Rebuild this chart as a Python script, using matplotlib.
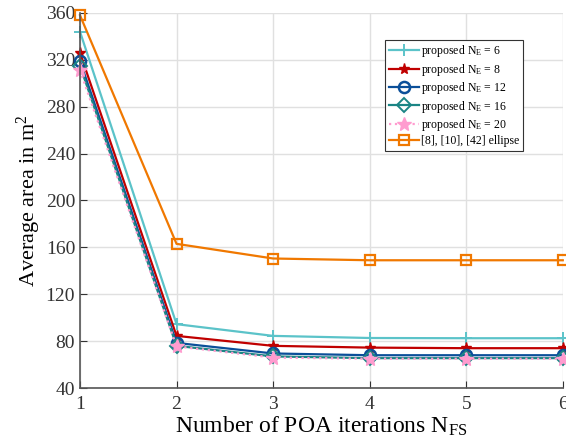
import matplotlib
matplotlib.use("Agg")
import matplotlib.pyplot as plt

plt.rcParams['font.family'] = ['Liberation Serif', 'DejaVu Serif']
plt.rcParams['mathtext.fontset'] = 'custom'
plt.rcParams['mathtext.rm'] = 'Liberation Serif'
plt.rcParams['mathtext.it'] = 'Liberation Serif:italic'

# data
iters = [1, 2, 3, 4, 5, 6]
ne6 = [344, 94.5, 84.5, 82.7, 82.5, 82.5]
ne8 = [326, 84.5, 76, 74.5, 74, 74]
ne12 = [319, 78.5, 69.5, 68, 68, 68]
ne16 = [315, 76, 67, 65.5, 65.5, 65.5]
ne20 = [311, 75.5, 66, 65, 65, 65]
ellipse = [358, 163, 150.5, 149, 149, 149]

yticks = [40, 80, 120, 160, 200, 240, 280, 320, 360]

fig = plt.figure(figsize=(5.66, 4.44), dpi=100)
ax = fig.add_axes([0.1413, 0.126, 0.853, 0.845])

#proposed curves
ax.plot(iters, ne6, color='#5bc3c9', marker='+', ms=9, mew=1.4, lw=1.6, clip_on=False,
        label=r'proposed $\mathregular{N_E}$ = 6')
ax.plot(iters, ne8, color='#c00000', marker='*', ms=8, mew=1, lw=1.6, clip_on=False,
        label=r'proposed $\mathregular{N_E}$ = 8')
ax.plot(iters, ne12, color='#0b4f99', marker='o', ms=8, mfc='none', mew=1.8, lw=1.6,
        clip_on=False, label=r'proposed $\mathregular{N_E}$ = 12')
ax.plot(iters, ne16, color='#1b8585', marker='D', ms=7, mfc='none', mew=1.4, lw=1.6,
        clip_on=False, label=r'proposed $\mathregular{N_E}$ = 16')
ax.plot(iters, ne20, color='#ff9ccf', marker='*', ms=10, mew=1, lw=1.6, ls=':',
        clip_on=False, label=r'proposed $\mathregular{N_E}$ = 20')
#reference method
ax.plot(iters, ellipse, color='#f07800', marker='s', ms=7, mfc='none', mew=1.6, lw=1.6,
        clip_on=False, label='[8], [10], [42] ellipse')

ax.set_xlim(1, 6)
ax.set_ylim(40, 360)
ax.set_yticks(yticks)
ax.set_xticks(iters)
ax.grid(True, color='#e0e0e0', lw=1)
ax.set_axisbelow(True)
ax.tick_params(direction='in', labelsize=14, colors='#333333', length=5)
ax.tick_params(axis='x', pad=6)
for s in ['top', 'right']:
    ax.spines[s].set_visible(False)
for s in ['left', 'bottom']:
    ax.spines[s].set_color('#555555')
    ax.spines[s].set_linewidth(1.2)

ax.set_xlabel(r'Number of POA iterations $\mathregular{N_{FS}}$', fontsize=17, labelpad=1)
ax.set_ylabel(r'Average area in $\mathregular{m^2}$', fontsize=16, labelpad=2)

leg = ax.legend(loc='upper right', bbox_to_anchor=(0.917, 0.928), fontsize=8.5,
                fancybox=False, edgecolor='#333333', framealpha=1, borderaxespad=0,
                handlelength=2.5, borderpad=0.3, labelspacing=0.2, handletextpad=0.2)
leg.get_frame().set_linewidth(0.8)

fig.savefig('out.png', dpi=100)
